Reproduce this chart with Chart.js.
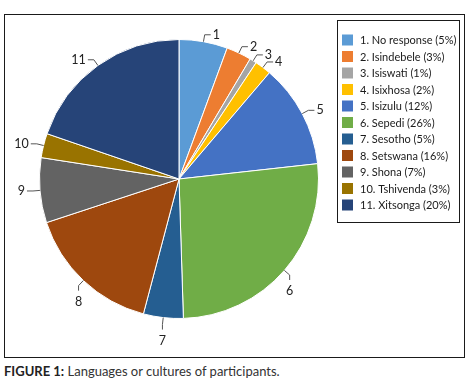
<!DOCTYPE html>
<html>
<head>
<meta charset="utf-8">
<script src="https://cdn.jsdelivr.net/npm/chart.js@4/dist/chart.umd.min.js"></script>
<style>
    body { margin: 0; background: #fff; width: 469px; height: 387px; position: relative; font-family: Lato, "Open Sans", sans-serif; }
    #frame { position: absolute; left: 4px; top: 14px; width: 459px; height: 342px; border: 1px solid #1a1a1a; }
    #caption { position: absolute; left: 4px; top: 363px; font-size: 13px; color: #333; white-space: nowrap; }
    #caption b { color: #222; }
</style>
</head>
<body>
<div id="frame"><canvas id="pie" width="459" height="342"></canvas></div>
<div id="caption"><b>FIGURE 1:</b> Languages or cultures of participants.</div>
<script>
const categories = ['No response', 'Isindebele', 'Isiswati', 'Isixhosa', 'Isizulu', 'Sepedi',
    'Sesotho', 'Setswana', 'Shona', 'Tshivenda', 'Xitsonga'];
const roundedPct = [5, 3, 1, 2, 12, 26, 5, 16, 7, 3, 20];
const shares = [5.6, 2.9, 0.8, 1.9, 12.0, 26.2, 4.6, 15.8, 7.5, 2.8, 19.7];
const sliceColors = ['#5B9BD5', '#ED7D31', '#A5A5A5', '#FFC000', '#4472C4', '#70AD47',
    '#255E91', '#9E480E', '#636363', '#997300', '#264478'];

const legendLabels = categories.map((name, i) => `${i + 1}. ${name} (${roundedPct[i]}%)`);

// numbers outside the pie with short leader lines
const sliceNumbers = {
    id: 'sliceNumbers',
    afterDatasetsDraw(chart) {
        const ctx = chart.ctx;
        const arcs = chart.getDatasetMeta(0).data;
        ctx.save();
        ctx.font = '12.5px Lato, sans-serif';
        ctx.fillStyle = '#222';
        ctx.strokeStyle = '#555';
        ctx.lineWidth = 1;
        arcs.forEach((arc, i) => {
            const mid = (arc.startAngle + arc.endAngle) / 2;
            const cos = Math.cos(mid), sin = Math.sin(mid);
            const r = arc.outerRadius;
            const x0 = arc.x + r * cos, y0 = arc.y + r * sin;
            const x1 = arc.x + (r + 7) * cos, y1 = arc.y + (r + 7) * sin;
            ctx.beginPath();
            ctx.moveTo(x0, y0);
            ctx.lineTo(x1, y1);
            let tx, ty;
            if (sin > 0.5) {
                // bottom of the pie: vertical tick, number underneath
                ctx.lineTo(x1, y1 + 5);
                tx = x1; ty = y1 + 16;
                ctx.textAlign = 'center';
            } else {
                const dx = cos > 0 ? 6 : -6;
                ctx.lineTo(x1 + dx, y1);
                tx = x1 + dx + (cos > 0 ? 2 : -2); ty = y1;
                ctx.textAlign = cos > 0 ? 'left' : 'right';
            }
            ctx.stroke();
            ctx.textBaseline = 'middle';
            ctx.fillText(String(i + 1), tx, ty);
        });
        ctx.restore();
    }
};

// boxed legend on the right
const boxedLegend = {
    id: 'boxedLegend',
    afterDraw(chart) {
        const ctx = chart.ctx;
        ctx.save();
        ctx.strokeStyle = '#1a1a1a';
        ctx.lineWidth = 1;
        ctx.strokeRect(332.5, 5.5, 122, 202);
        ctx.font = '11px Lato, sans-serif';
        ctx.textBaseline = 'middle';
        ctx.textAlign = 'left';
        legendLabels.forEach((text, i) => {
            const cy = 25 + i * 16.5;
            ctx.fillStyle = sliceColors[i];
            ctx.fillRect(337, cy - 5.5, 11, 11);
            ctx.fillStyle = '#1a1a1a';
            ctx.fillText(text, 355, cy + 0.5);
        });
        ctx.restore();
    }
};

const ctx = document.getElementById('pie').getContext('2d');
new Chart(ctx, {
    type: 'pie',
    data: {
        labels: legendLabels,
        datasets: [{
            data: shares,
            backgroundColor: sliceColors,
            borderColor: '#ffffff',
            borderWidth: 1,
            hoverOffset: 0
        }]
    },
    options: {
        responsive: false,
        animation: false,
        layout: { padding: { left: 34, right: 145, top: 24, bottom: 38 } },
        plugins: {
            legend: { display: false },
            tooltip: { enabled: false }
        }
    },
    plugins: [sliceNumbers, boxedLegend]
});
</script>
</body>
</html>
